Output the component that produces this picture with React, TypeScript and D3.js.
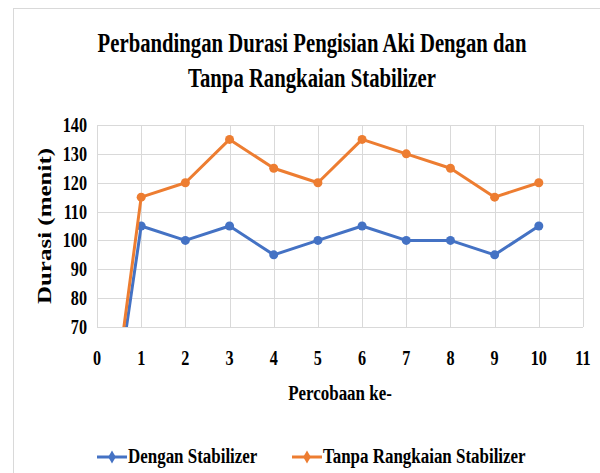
import React from 'react';
import * as d3 from 'd3';

const trials = [0, 1, 2, 3, 4, 5, 6, 7, 8, 9, 10];
const withStabilizer = [0, 105, 100, 105, 95, 100, 105, 100, 100, 95, 105];
const withoutStabilizer = [0, 115, 120, 135, 125, 120, 135, 130, 125, 115, 120];
const xTicks = [0, 1, 2, 3, 4, 5, 6, 7, 8, 9, 10, 11];
const yTicks = [70, 80, 90, 100, 110, 120, 130, 140];
const seriesNames = ['Dengan Stabilizer', 'Tanpa Rangkaian Stabilizer'];
const colors = ['#4472C4', '#ED7D31'];

const W = 600, H = 473;
const margin = { top: 125, right: 17, bottom: 146, left: 97 };
const SQ = 0.77; // the reference text is squeezed sideways
const FONT = '"Liberation Serif", "Times New Roman", serif';

function Txt({ x, y, size, anchor = 'middle', rotate = 0, sq = SQ, children }: any) {
  const t = rotate
    ? `translate(${x},${y}) rotate(${rotate}) scale(1,${sq})`
    : `translate(${x},${y}) scale(${sq},1)`;
  return (
    <text transform={t} textAnchor={anchor} fontFamily={FONT} fontWeight="bold"
      fontSize={size} fill="#000">{children}</text>
  );
}

export default function App() {
  const x = d3.scaleLinear().domain([0, 11]).range([margin.left, W - margin.right]);
  const y = d3.scaleLinear().domain([70, 140]).range([H - margin.bottom, margin.top]);

  const line = d3.line<number>()
    .x((d, i) => x(trials[i]))
    .y(d => y(d));

  const series = [withStabilizer, withoutStabilizer];
  const smallDiamond = d3.symbol().type(d3.symbolDiamond).size(50)();

  const [x0, x1] = x.range();
  const [y0, y1] = y.range();

  return (
    <svg width={W} height={H} style={{ position: 'absolute', left: 0, top: 0, background: '#fff' }}>
      <rect x={13.5} y={8.5} width={W} height={H} fill="#fff" stroke="#d9d9d9" />

      <Txt x={312} y={52} size={28} sq={0.74}>Perbandingan Durasi Pengisian Aki Dengan dan</Txt>
      <Txt x={312} y={87} size={28} sq={0.74}>Tanpa Rangkaian Stabilizer</Txt>

      {/* grid */}
      {yTicks.map(t => (
        <line key={'gy' + t} x1={x0} x2={x1} y1={Math.round(y(t)) + 0.5} y2={Math.round(y(t)) + 0.5}
          stroke="#d9d9d9" />
      ))}
      {xTicks.map(t => (
        <line key={'gx' + t} y1={y0} y2={y1} x1={Math.round(x(t)) + 0.5} x2={Math.round(x(t)) + 0.5}
          stroke="#d9d9d9" />
      ))}

      <clipPath id="plot">
        <rect x={x0} y={y1 - 10} width={x1 - x0} height={y0 - y1 + 10} />
      </clipPath>

      <g clipPath="url(#plot)">
        {series.map((s, k) => (
          <g key={k}>
            <path d={line(s) || ''} fill="none" stroke={colors[k]} strokeWidth={3} strokeLinejoin="round" />
            {s.map((v, i) => (
              <circle key={i} cx={x(trials[i])} cy={y(v)} r={4.5} fill={colors[k]} />
            ))}
          </g>
        ))}
      </g>

      {yTicks.map(t => (
        <Txt key={'ty' + t} x={87} y={y(t) + 7} size={21} anchor="end">{t}</Txt>
      ))}
      {xTicks.map(t => (
        <Txt key={'tx' + t} x={x(t)} y={365} size={21}>{t}</Txt>
      ))}

      <Txt x={340} y={400} size={22}>Percobaan ke-</Txt>
      <Txt x={51} y={226} size={25} rotate={-90}>Durasi (menit)</Txt>

      {/* legend */}
      {seriesNames.map((n, k) => {
        const lx = k === 0 ? 97 : 292;
        return (
          <g key={n}>
            <line x1={lx} x2={lx + 30} y1={457} y2={457} stroke={colors[k]} strokeWidth={3} />
            <path d={smallDiamond || ''} transform={`translate(${lx + 15},457)`} fill={colors[k]} />
            <Txt x={lx + 31} y={463} size={22} anchor="start">{n}</Txt>
          </g>
        );
      })}
    </svg>
  );
}
